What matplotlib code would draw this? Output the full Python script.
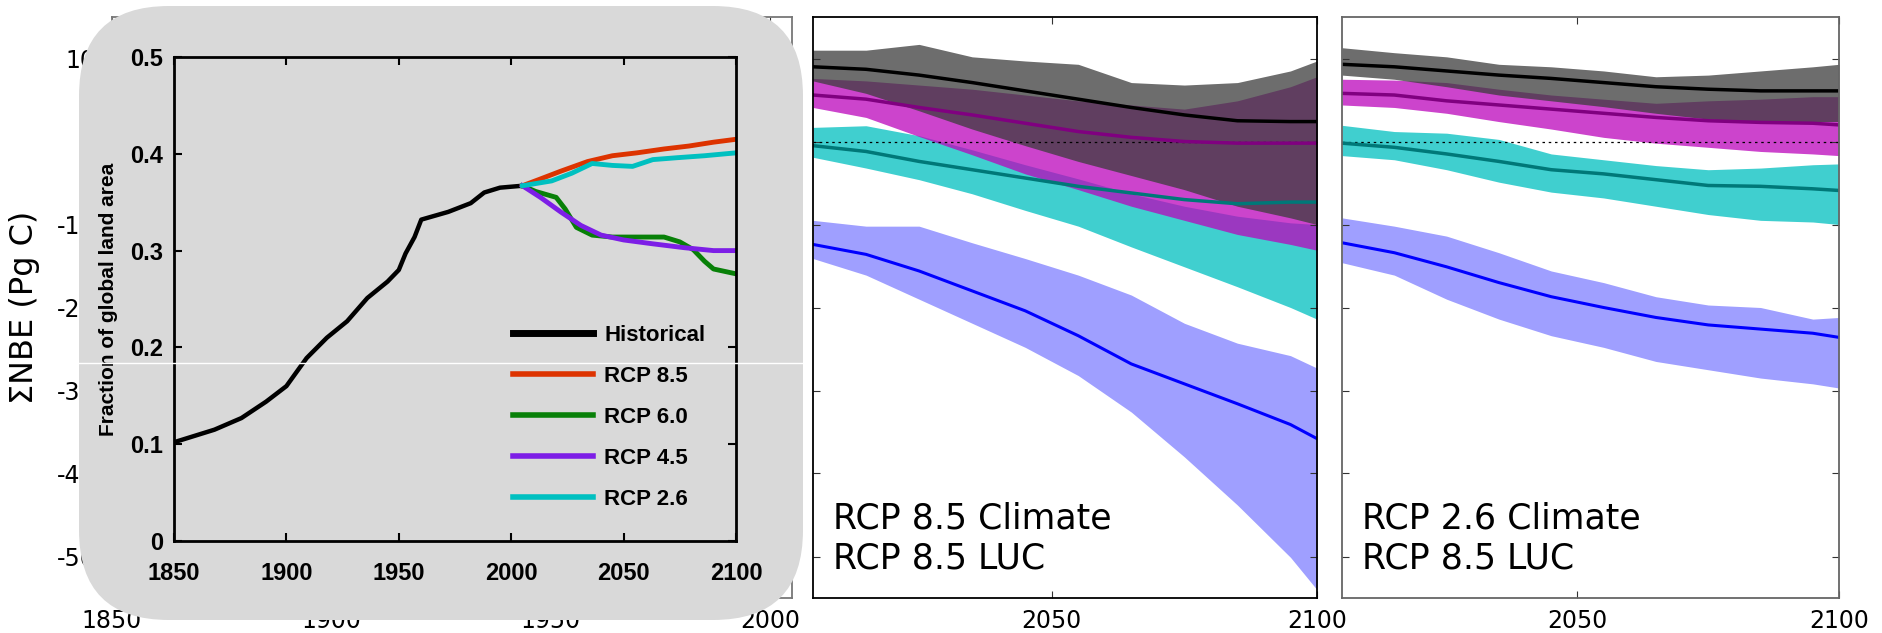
import matplotlib
matplotlib.use("Agg")
import matplotlib.pyplot as plt
from matplotlib.patches import FancyBboxPatch
from matplotlib.lines import Line2D

plt.rcParams["axes.unicode_minus"] = False

# ---- inset: fraction of global land area under land use ----
hist_years = [1850, 1868, 1880, 1891, 1900, 1909, 1918, 1927, 1936, 1945,
              1950, 1953, 1957, 1960, 1963, 1972, 1982, 1988, 1995, 2005]
hist_frac = [0.102, 0.115, 0.127, 0.144, 0.160, 0.189, 0.210, 0.227, 0.251, 0.268,
             0.280, 0.297, 0.314, 0.332, 0.334, 0.340, 0.349, 0.360, 0.365, 0.367]
rcp85_years = [2005, 2013, 2022, 2034, 2045, 2056, 2068, 2079, 2090, 2100]
rcp85_frac = [0.367, 0.374, 0.382, 0.392, 0.398, 0.401, 0.405, 0.408, 0.412, 0.415]
rcp60_years = [2005, 2011, 2020, 2024, 2029, 2036, 2045, 2056, 2068, 2075, 2081, 2086, 2090, 2100]
rcp60_frac = [0.367, 0.361, 0.355, 0.343, 0.324, 0.316, 0.314, 0.314, 0.314, 0.309,
              0.301, 0.289, 0.281, 0.276]
rcp45_years = [2005, 2013, 2022, 2031, 2040, 2050, 2063, 2077, 2090, 2100]
rcp45_frac = [0.367, 0.355, 0.340, 0.326, 0.316, 0.311, 0.307, 0.303, 0.300, 0.300]
rcp26_years = [2005, 2018, 2027, 2036, 2045, 2054, 2063, 2074, 2086, 2100]
rcp26_frac = [0.367, 0.372, 0.380, 0.390, 0.388, 0.387, 0.394, 0.396, 0.398, 0.401]
inset_labels = ["Historical", "RCP 8.5", "RCP 6.0", "RCP 4.5", "RCP 2.6"]

# ---- background panel: historical cumulative NBE (mostly hidden) ----
past_years = [1850, 1900, 1950, 1980, 2005]
past_mean = [0.0, 2.0, 4.5, 7.0, 9.0]
past_up = [1.0, 3.5, 6.5, 9.5, 11.0]
past_lo = [-1.0, 0.5, 2.5, 5.0, 7.3]

# ---- future cumulative NBE (Pg C) ----
fut_years = [2005, 2015, 2025, 2035, 2045, 2055, 2065, 2075, 2085, 2095, 2100]

# RCP 8.5 climate / RCP 8.5 LUC
c85_gray_up = [11.0, 11.0, 11.7, 10.2, 9.7, 9.3, 7.1, 6.8, 7.1, 8.5, 9.7]
c85_black = [9.0, 8.7, 8.0, 7.1, 6.1, 5.1, 4.1, 3.2, 2.5, 2.4, 2.4]
c85_gray_lo = [7.3, 5.8, 3.7, 1.5, -0.5, -2.4, -4.1, -5.8, -7.8, -9.2, -10.0]
c85_mag_up = [7.6, 7.3, 6.8, 6.3, 5.6, 4.9, 4.4, 3.9, 4.9, 6.6, 7.8]
c85_mag = [5.6, 5.1, 4.1, 3.2, 2.2, 1.2, 0.5, 0.0, -0.2, -0.2, -0.2]
c85_mag_lo = [4.1, 2.9, 0.6, -1.6, -3.9, -5.8, -7.8, -9.5, -11.2, -12.4, -13.1]
c85_cyan_up = [1.7, 1.9, 0.7, -1.0, -2.8, -4.5, -6.3, -7.8, -9.0, -9.8, -10.0]
c85_cyan = [-0.5, -1.2, -2.4, -3.4, -4.4, -5.4, -6.2, -7.0, -7.5, -7.3, -7.3]
c85_cyan_lo = [-1.9, -3.2, -4.6, -6.3, -8.3, -10.2, -12.7, -15.1, -17.5, -20.0, -21.4]
c85_blue_up = [-9.5, -10.2, -10.2, -12.2, -14.1, -16.1, -18.5, -21.9, -24.3, -25.8, -27.3]
c85_blue = [-12.4, -13.6, -15.6, -18.0, -20.4, -23.4, -26.8, -29.2, -31.6, -34.1, -35.8]
c85_blue_lo = [-14.1, -16.1, -19.0, -21.9, -24.8, -28.2, -32.6, -38.0, -43.8, -50.1, -54.0]

# RCP 2.6 climate / RCP 8.5 LUC
c26_gray_up = [11.3, 10.7, 10.2, 9.3, 9.0, 8.5, 7.8, 8.0, 8.5, 9.0, 9.3]
c26_black = [9.3, 9.0, 8.5, 8.0, 7.6, 7.1, 6.6, 6.3, 6.1, 6.1, 6.1]
c26_gray_lo = [8.0, 7.5, 6.6, 5.6, 4.9, 4.2, 3.4, 2.7, 2.4, 2.4, 2.4]
c26_mag_up = [7.5, 7.4, 7.1, 6.3, 5.6, 5.1, 4.6, 4.9, 5.1, 5.4, 5.4]
c26_mag = [5.8, 5.6, 4.9, 4.4, 3.9, 3.4, 2.9, 2.5, 2.3, 2.2, 2.0]
c26_mag_lo = [4.4, 4.1, 3.4, 2.4, 1.5, 0.5, -0.2, -0.7, -1.2, -1.5, -1.7]
c26_cyan_up = [1.95, 1.2, 1.0, 0.25, -1.5, -2.2, -2.9, -3.4, -3.2, -2.8, -2.7]
c26_cyan = [-0.2, -0.7, -1.5, -2.4, -3.4, -3.9, -4.6, -5.3, -5.4, -5.7, -5.9]
c26_cyan_lo = [-1.7, -2.2, -3.4, -4.9, -6.1, -6.8, -7.8, -8.8, -9.5, -9.7, -10.0]
c26_blue_up = [-9.2, -10.2, -11.4, -13.4, -15.6, -17.0, -18.7, -19.7, -20.0, -21.4, -21.2]
c26_blue = [-12.2, -13.4, -15.1, -17.0, -18.7, -20.0, -21.2, -22.1, -22.6, -23.1, -23.6]
c26_blue_lo = [-14.6, -16.1, -19.0, -21.4, -23.4, -24.8, -26.5, -27.5, -28.5, -29.2, -29.7]

W, H = 1883, 633
fig = plt.figure(figsize=(W / 100, H / 100), dpi=100)
fig.patch.set_facecolor("white")

inset_font = "Liberation Sans"


def px_axes(x0, y0, x1, y1):
    return fig.add_axes([x0 / W, 1 - y1 / H, (x1 - x0) / W, (y1 - y0) / H])


def style_main(ax, xlim, xticks, spine_color):
    ax.set_xlim(*xlim)
    ax.set_ylim(-55, 15)
    ax.set_xticks(xticks)
    ax.set_yticks([-50, -40, -30, -20, -10, 0, 10])
    ax.tick_params(direction="in", top=True, right=True, length=5,
                   labelsize=17, pad=8, color="#333333")
    for s in ax.spines.values():
        s.set_color(spine_color)
        s.set_linewidth(1.3)


def draw_future(ax, d):
    ax.fill_between(fut_years, d["cyan_lo"], d["cyan_up"], color="#00c0c0", alpha=0.75, lw=0)
    ax.fill_between(fut_years, d["mag_lo"], d["mag_up"], color="#bb05bb", alpha=0.75, lw=0)
    ax.fill_between(fut_years, d["gray_lo"], d["gray_up"], color="#3c3c3c", alpha=0.75, lw=0)
    ax.fill_between(fut_years, d["blue_lo"], d["blue_up"], color="#0000ff", alpha=0.375, lw=0)
    ax.axhline(0, color="black", lw=0.9, ls=(0, (2, 3)))
    ax.plot(fut_years, d["black"], color="black", lw=2.5)
    ax.plot(fut_years, d["mag"], color="#800080", lw=2.5)
    ax.plot(fut_years, d["cyan"], color="#007878", lw=2.5)
    ax.plot(fut_years, d["blue"], color="#0000ff", lw=2.2)


# background historical panel
ax0 = px_axes(112, 17, 792, 598)
style_main(ax0, (1850, 2005), [1850, 1900, 1950, 2000], "#777777")
ax0.tick_params(axis="y", pad=12)
ax0.fill_between(past_years, past_lo, past_up, color="#3c3c3c", alpha=0.75, lw=0)
ax0.plot(past_years, past_mean, color="black", lw=2.5)
ax0.axhline(0, color="black", lw=0.9, ls=(0, (2, 3)))
ax0.set_ylabel("\u03a3NBE (Pg C)", fontsize=23, va="center")
ax0.yaxis.set_label_coords(-0.129, 0.5)

# RCP 8.5 climate panel
ax1 = px_axes(813, 17, 1317, 598)
style_main(ax1, (2005, 2100), [2050, 2100], "black")
ax1.tick_params(labelleft=False)
draw_future(ax1, dict(gray_up=c85_gray_up, black=c85_black, gray_lo=c85_gray_lo,
                      mag_up=c85_mag_up, mag=c85_mag, mag_lo=c85_mag_lo,
                      cyan_up=c85_cyan_up, cyan=c85_cyan, cyan_lo=c85_cyan_lo,
                      blue_up=c85_blue_up, blue=c85_blue, blue_lo=c85_blue_lo))
ax1.text(0.04, 0.038, "RCP 8.5 Climate\nRCP 8.5 LUC", transform=ax1.transAxes,
         fontsize=25, ha="left", va="bottom", linespacing=1.25)

# RCP 2.6 climate panel
ax2 = px_axes(1342, 17, 1839, 598)
style_main(ax2, (2005, 2100), [2050, 2100], "#666666")
ax2.tick_params(labelleft=False)
draw_future(ax2, dict(gray_up=c26_gray_up, black=c26_black, gray_lo=c26_gray_lo,
                      mag_up=c26_mag_up, mag=c26_mag, mag_lo=c26_mag_lo,
                      cyan_up=c26_cyan_up, cyan=c26_cyan, cyan_lo=c26_cyan_lo,
                      blue_up=c26_blue_up, blue=c26_blue, blue_lo=c26_blue_lo))
ax2.text(0.04, 0.038, "RCP 2.6 Climate\nRCP 8.5 LUC", transform=ax2.transAxes,
         fontsize=25, ha="left", va="bottom", linespacing=1.25)

# grey rounded box holding the land-use inset
box = FancyBboxPatch((0.79, 0.13), 7.24, 6.14, boxstyle="round,pad=0,rounding_size=0.9",
                     transform=fig.dpi_scale_trans, facecolor="#d9d9d9",
                     edgecolor="none", zorder=1)
fig.add_artist(box)

axi = px_axes(174, 57, 736, 541)
axi.set_zorder(2)
axi.set_facecolor("none")
axi.plot(hist_years, hist_frac, color="black", lw=3.2)
axi.plot(rcp85_years, rcp85_frac, color="#dd3300", lw=3.5)
axi.plot(rcp60_years, rcp60_frac, color="#088008", lw=3.5)
axi.plot(rcp45_years, rcp45_frac, color="#7d1ee6", lw=3.5)
axi.plot(rcp26_years, rcp26_frac, color="#00c0c0", lw=3.5)
axi.set_xlim(1850, 2100)
axi.set_ylim(0, 0.5)
axi.set_xticks([1850, 1900, 1950, 2000, 2050, 2100])
axi.set_yticks([0, 0.1, 0.2, 0.3, 0.4, 0.5])
axi.set_yticklabels(["0", "0.1", "0.2", "0.3", "0.4", "0.5"])
axi.tick_params(direction="in", top=True, right=True, length=6, width=1.5,
                labelsize=17, pad=8)
axi.tick_params(axis="x", pad=15)
for lab in axi.get_xticklabels() + axi.get_yticklabels():
    lab.set_family(inset_font)
    lab.set_fontweight("bold")
for s in axi.spines.values():
    s.set_linewidth(2)
axi.set_ylabel("Fraction of global land area", fontsize=15, family=inset_font,
               fontweight="bold", va="center")
axi.yaxis.set_label_coords(-0.117, 0.5)

handles = [Line2D([], [], color="black", lw=5),
           Line2D([], [], color="#dd3300", lw=4),
           Line2D([], [], color="#088008", lw=4),
           Line2D([], [], color="#7d1ee6", lw=4),
           Line2D([], [], color="#00c0c0", lw=4)]
leg_size = 16
em = leg_size * 100 / 72
axi.legend(handles, inset_labels, loc="lower right", bbox_to_anchor=(0.965, 0.042),
           frameon=False, prop={"family": inset_font, "size": leg_size, "weight": "bold"},
           handlelength=80 / em, handletextpad=11 / em,
           labelspacing=41 / em - 0.95, borderpad=0)

# thin white scan line across the left part
fig.add_artist(Line2D([0, 803 / W], [1 - 363 / H, 1 - 363 / H], transform=fig.transFigure,
                      color="white", lw=1, zorder=3))

fig.savefig("out.png", dpi=100)
